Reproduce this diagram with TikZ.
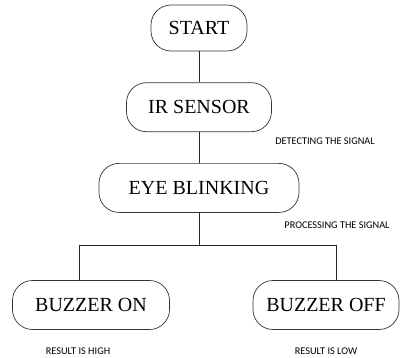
\documentclass[tikz,border=0pt]{standalone}
\usepackage{fontspec}
\setmainfont{Liberation Serif}
\newfontfamily\notefont{Carlito}
\usepackage{tikz}
\usetikzlibrary{positioning}
\tikzset{
  flowbox/.style={
    rectangle,
    draw=black!80,
    line width=0.7pt,
    rounded corners=20pt,
    align=center,
    minimum height=49pt,
    inner sep=0pt,
    font=\fontsize{20}{24}\selectfont
  },
  note/.style={
    inner sep=0pt,
    font=\notefont\fontsize{10.3}{12}\selectfont
  },
  link/.style={
    draw=black!85,
    line width=0.8pt
  }
}

\begin{document}
\begin{tikzpicture}[x=1pt, y=-1pt]
\useasboundingbox (0,0) rectangle (401,358);

% Nodes
\node (start) [flowbox, minimum width=96pt, minimum height=46pt] at (199,28) {START};
\node (sensor) [flowbox, minimum width=145pt, below=31pt of start] {IR SENSOR};
\node (blink) [flowbox, minimum width=200pt, below=31pt of sensor] {EYE BLINKING};

\node (on) [flowbox, minimum width=157pt] at (91,305) {BUZZER ON};
\node (off) [flowbox, minimum width=146pt] at (326,305) {BUZZER OFF};

% Notes
\node (detect) [note] at (325,141) {DETECTING THE SIGNAL};
\node (process) [note] at (337,225) {PROCESSING THE SIGNAL};
\node (high) [note] at (78,351) {RESULT IS HIGH};
\node (low) [note] at (326,351) {RESULT IS LOW};

% Connectors
\draw [link] (start) -- (sensor);
\draw [link] (sensor) -- (blink);
\draw [link] (blink.south) -- ++(0,33) coordinate (split);
\draw [link] (split) -| ([xshift=-12pt]on.north);
\draw [link] (split) -| ([xshift=10pt]off.north);

\end{tikzpicture}
\end{document}
